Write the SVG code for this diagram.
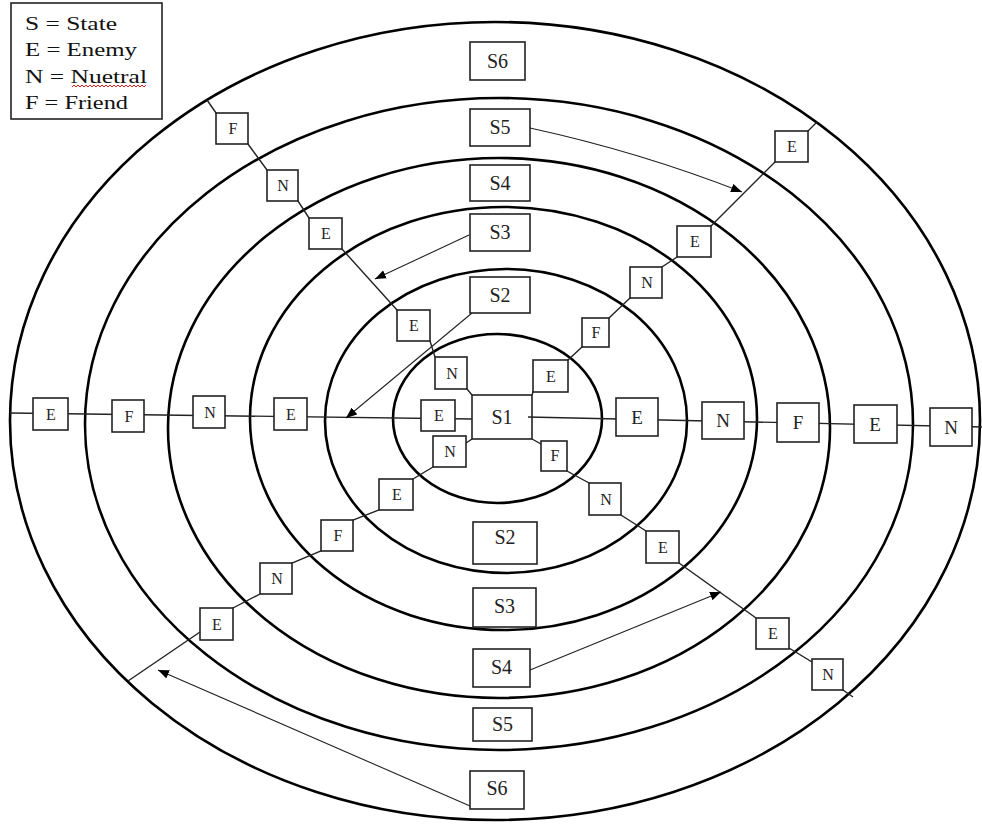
<svg xmlns="http://www.w3.org/2000/svg" width="982" height="827" viewBox="0 0 982 827">
<defs>
<style>
.ring{fill:none;stroke:#000;stroke-width:2.6}
.conn{fill:none;stroke:#222;stroke-width:1.4}
.arr{fill:none;stroke:#222;stroke-width:1.1;marker-end:url(#ah)}
.box{fill:#fff;stroke:#222;stroke-width:1.6}
.t{font-family:"Liberation Serif","Times New Roman",serif;fill:#222;text-anchor:middle}
.sm{font-size:16px}
.md{font-size:19px}
.st{font-size:20px}
.lg{font-family:"Liberation Serif","Times New Roman",serif;fill:#111;font-size:18px}
</style>
<marker id="ah" viewBox="0 0 10 8" refX="10" refY="4" markerWidth="11" markerHeight="9" markerUnits="userSpaceOnUse" orient="auto">
<path d="M0,0 L10,4 L0,8 z" fill="#000"/>
</marker>
</defs>
<rect width="982" height="827" fill="#fff"/>

<g id="rings">
<ellipse class="ring" cx="495" cy="421" rx="485" ry="399"/>
<ellipse class="ring" cx="499" cy="424" rx="414" ry="326"/>
<ellipse class="ring" cx="499" cy="428" rx="331" ry="270"/>
<ellipse class="ring" cx="503.5" cy="418.5" rx="253.5" ry="211.5"/>
<ellipse class="ring" cx="506" cy="421" rx="181" ry="152"/>
<ellipse class="ring" cx="497.5" cy="418.5" rx="104.5" ry="84.5"/>
</g>

<g id="connectors">
<polyline class="conn" points="207,100 216,113 248,144 267,170 298,201 309,218 342,249 397,310 430,341 435,357 467,389 472,395"/>
<polyline class="conn" points="532,395 533,392 568,360 582,347 609,318 630,298 662,267 677,257 711,226 775,162 808,131 817,122"/>
<polyline class="conn" points="472,439 466,443 433,467 413,479 379,510 353,520 321,551 292,563 260,594 233,608 200,632 128,681"/>
<polyline class="conn" points="532,439 541,444 567,471 589,483 621,515 646,531 679,563 756,618 789,648 812,662 843,690 853,697"/>
<line class="conn" x1="10" y1="413" x2="472" y2="419"/>
<line class="conn" x1="528" y1="417" x2="982" y2="427"/>
<path class="arr" d="M530,128 Q640,152 742,192"/>
<line class="arr" x1="469" y1="235" x2="375" y2="279"/>
<line class="arr" x1="472" y1="313" x2="346" y2="418"/>
<line class="arr" x1="530" y1="670" x2="721" y2="592"/>
<line class="arr" x1="470" y1="806" x2="158" y2="670"/>
</g>

<g id="legend">
<rect x="11" y="3" width="151" height="116" fill="#fff" stroke="#222" stroke-width="1.6"/>
<text class="lg" x="25" y="30" textLength="92" lengthAdjust="spacingAndGlyphs">S = State</text>
<text class="lg" x="25" y="56" textLength="112" lengthAdjust="spacingAndGlyphs">E = Enemy</text>
<text class="lg" x="25" y="83" textLength="122" lengthAdjust="spacingAndGlyphs">N = Nuetral</text>
<text class="lg" x="25" y="109" textLength="103" lengthAdjust="spacingAndGlyphs">F = Friend</text>
<path d="M72,87 l2,-2 l2,2 l2,-2 l2,2 l2,-2 l2,2 l2,-2 l2,2 l2,-2 l2,2 l2,-2 l2,2 l2,-2 l2,2 l2,-2 l2,2 l2,-2 l2,2 l2,-2 l2,2 l2,-2 l2,2 l2,-2 l2,2 l2,-2 l2,2 l2,-2 l2,2 l2,-2 l2,2 l2,-2 l2,2 l2,-2 l2,2 l2,-2 l2,2 l2,-2" fill="none" stroke="#e02020" stroke-width="1"/>
</g>

<g id="s1"><rect class="box" x="472" y="395" width="60" height="44" style="fill:none"/><text class="t st" x="502" y="424">S1</text></g>
<g id="s2-top"><rect class="box" x="470" y="277" width="60" height="36"/><text class="t st" x="500" y="302">S2</text></g>
<g id="s3-top"><rect class="box" x="470" y="214" width="60" height="37"/><text class="t st" x="500" y="239">S3</text></g>
<g id="s4-top"><rect class="box" x="470" y="165" width="60" height="36"/><text class="t st" x="500" y="190">S4</text></g>
<g id="s5-top"><rect class="box" x="470" y="109" width="60" height="37"/><text class="t st" x="500" y="134">S5</text></g>
<g id="s6-top"><rect class="box" x="470" y="42" width="55" height="38"/><text class="t st" x="497.5" y="68">S6</text></g>
<g id="s2-bot"><rect class="box" x="473" y="522" width="64" height="42"/><text class="t st" x="505" y="544">S2</text></g>
<g id="s3-bot"><rect class="box" x="473" y="588" width="63" height="39"/><text class="t st" x="504.5" y="613">S3</text></g>
<g id="s4-bot"><rect class="box" x="473" y="649" width="57" height="38"/><text class="t st" x="501.5" y="674">S4</text></g>
<g id="s5-bot"><rect class="box" x="473" y="708" width="59" height="33"/><text class="t st" x="502.5" y="731">S5</text></g>
<g id="s6-bot"><rect class="box" x="470" y="771" width="54" height="38"/><text class="t st" x="497" y="795">S6</text></g>

<g id="w1"><rect class="box" x="33" y="398" width="35" height="32"/><text class="t sm" x="51" y="420">E</text></g>
<g id="w2"><rect class="box" x="112" y="400" width="32" height="32"/><text class="t sm" x="129" y="422">F</text></g>
<g id="w3"><rect class="box" x="193" y="396" width="32" height="32"/><text class="t sm" x="210" y="418">N</text></g>
<g id="w4"><rect class="box" x="274" y="398" width="33" height="32"/><text class="t sm" x="291" y="420">E</text></g>
<g id="w5"><rect class="box" x="421" y="400" width="34" height="31"/><text class="t sm" x="439" y="421">E</text></g>

<g id="e1"><rect class="box" x="616" y="398" width="42" height="38"/><text class="t md" x="637" y="424">E</text></g>
<g id="e2"><rect class="box" x="702" y="402" width="42" height="37"/><text class="t md" x="723" y="427">N</text></g>
<g id="e3"><rect class="box" x="777" y="403" width="42" height="39"/><text class="t md" x="798" y="429">F</text></g>
<g id="e4"><rect class="box" x="854" y="405" width="43" height="38"/><text class="t md" x="875" y="431">E</text></g>
<g id="e5"><rect class="box" x="930" y="408" width="42" height="38"/><text class="t md" x="951" y="434">N</text></g>

<g id="ul1"><rect class="box" x="216" y="113" width="32" height="31"/><text class="t sm" x="233" y="134">F</text></g>
<g id="ul2"><rect class="box" x="267" y="170" width="31" height="31"/><text class="t sm" x="283" y="191">N</text></g>
<g id="ul3"><rect class="box" x="309" y="218" width="33" height="31"/><text class="t sm" x="326" y="239">E</text></g>
<g id="ul4"><rect class="box" x="397" y="310" width="33" height="31"/><text class="t sm" x="414" y="331">E</text></g>
<g id="ul5"><rect class="box" x="435" y="357" width="32" height="32"/><text class="t sm" x="452" y="379">N</text></g>

<g id="ur1"><rect class="box" x="533" y="360" width="35" height="32"/><text class="t sm" x="551" y="382">E</text></g>
<g id="ur2"><rect class="box" x="582" y="318" width="27" height="29"/><text class="t sm" x="596" y="338">F</text></g>
<g id="ur3"><rect class="box" x="630" y="267" width="32" height="31"/><text class="t sm" x="647" y="288">N</text></g>
<g id="ur4"><rect class="box" x="677" y="226" width="34" height="31"/><text class="t sm" x="695" y="247">E</text></g>
<g id="ur5"><rect class="box" x="775" y="131" width="33" height="31"/><text class="t sm" x="792" y="152">E</text></g>

<g id="ll1"><rect class="box" x="433" y="436" width="33" height="31"/><text class="t sm" x="450" y="457">N</text></g>
<g id="ll2"><rect class="box" x="379" y="479" width="34" height="31"/><text class="t sm" x="397" y="500">E</text></g>
<g id="ll3"><rect class="box" x="321" y="520" width="32" height="31"/><text class="t sm" x="338" y="541">F</text></g>
<g id="ll4"><rect class="box" x="260" y="563" width="32" height="31"/><text class="t sm" x="277" y="584">N</text></g>
<g id="ll5"><rect class="box" x="200" y="608" width="33" height="32"/><text class="t sm" x="217" y="630">E</text></g>

<g id="lr1"><rect class="box" x="541" y="441" width="26" height="30"/><text class="t sm" x="555" y="461">F</text></g>
<g id="lr2"><rect class="box" x="589" y="483" width="32" height="32"/><text class="t sm" x="606" y="505">N</text></g>
<g id="lr3"><rect class="box" x="646" y="531" width="33" height="32"/><text class="t sm" x="663" y="553">E</text></g>
<g id="lr4"><rect class="box" x="756" y="618" width="33" height="31"/><text class="t sm" x="773" y="639">E</text></g>
<g id="lr5"><rect class="box" x="812" y="659" width="31" height="31"/><text class="t sm" x="828" y="680">N</text></g>
</svg>
